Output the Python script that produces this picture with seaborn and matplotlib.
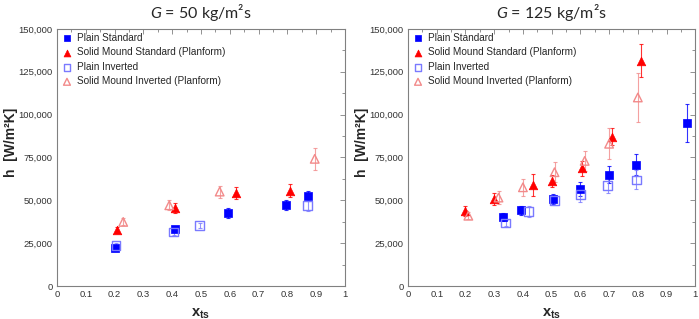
import numpy as np
import pandas as pd
import matplotlib
matplotlib.use("Agg")
import matplotlib.pyplot as plt
from matplotlib.ticker import MultipleLocator, FuncFormatter
import seaborn as sns

# --- Datos: G = 50 kg/m2s ---
g50_ps_x = [0.20, 0.41, 0.595, 0.795, 0.87]
g50_ps_y = [22000, 33000, 42800, 47300, 52700]
g50_ps_e = [1500, 1500, 3000, 3000, 3000]

g50_sms_x = [0.21, 0.41, 0.62, 0.81]
g50_sms_y = [32700, 45700, 54100, 55700]
g50_sms_e = [1500, 3000, 3500, 4000]

g50_pi_x = [0.205, 0.405, 0.495, 0.87]
g50_pi_y = [23500, 31400, 35200, 46900]
g50_pi_e = [1500, 1500, 1500, 3000]

g50_smi_x = [0.23, 0.39, 0.565, 0.895]
g50_smi_y = [37400, 47100, 55100, 74200]
g50_smi_e = [2000, 3000, 3500, 6500]

# --- Datos: G = 125 kg/m2s ---
g125_ps_x = [0.33, 0.395, 0.505, 0.60, 0.70, 0.795, 0.97]
g125_ps_y = [40300, 44200, 50600, 56600, 65000, 70800, 95200]
g125_ps_e = [2500, 2500, 3000, 4000, 5000, 6000, 11000]

g125_sms_x = [0.20, 0.30, 0.435, 0.50, 0.605, 0.71, 0.81]
g125_sms_y = [43800, 50600, 58800, 61100, 68700, 87000, 131500]
g125_sms_e = [3000, 3500, 6500, 3500, 4500, 5000, 9500]

g125_pi_x = [0.34, 0.42, 0.51, 0.60, 0.695, 0.795]
g125_pi_y = [36800, 43400, 50000, 53300, 58600, 61900]
g125_pi_e = [2000, 3000, 3000, 4000, 4500, 5500]

g125_smi_x = [0.21, 0.315, 0.40, 0.51, 0.615, 0.70, 0.80]
g125_smi_y = [41000, 51600, 57600, 66400, 73000, 83000, 110000]
g125_smi_e = [2000, 4000, 5000, 6000, 6000, 9000, 14500]

labels = ["Plain Standard", "Solid Mound Standard (Planform)",
          "Plain Inverted", "Solid Mound Inverted (Planform)"]

# estilo de cada serie: (marcador, color, relleno)
estilos = [("s", "#0000FF", True), ("^", "#FF0000", True),
           ("s", "#7A7AFF", False), ("^", "#F28A8A", False)]

paneles = [
    ("50", [(g50_ps_x, g50_ps_y, g50_ps_e), (g50_sms_x, g50_sms_y, g50_sms_e),
            (g50_pi_x, g50_pi_y, g50_pi_e), (g50_smi_x, g50_smi_y, g50_smi_e)]),
    ("125", [(g125_ps_x, g125_ps_y, g125_ps_e), (g125_sms_x, g125_sms_y, g125_sms_e),
             (g125_pi_x, g125_pi_y, g125_pi_e), (g125_smi_x, g125_smi_y, g125_smi_e)]),
]

sns.set_style("white")
plt.rcParams["font.family"] = ["Liberation Sans", "DejaVu Sans"]
plt.rcParams["mathtext.fontset"] = "custom"
plt.rcParams["mathtext.it"] = "Lato:italic"
plt.rcParams["mathtext.rm"] = "Lato"
plt.rcParams["mathtext.bf"] = "Liberation Sans:bold"

fig = plt.figure(figsize=(6.99, 3.19), dpi=100)
posiciones = [[0.0815, 0.1034, 0.412, 0.806], [0.5837, 0.1034, 0.411, 0.806]]

for pos, (g, series) in zip(posiciones, paneles):
    ax = fig.add_axes(pos)
    for (x, y, e), (m, c, lleno), lab in zip(series, estilos, labels):
        df = pd.DataFrame({"xts": x, "h": y})
        ax.errorbar(x, y, yerr=e, fmt="none", ecolor=c, elinewidth=0.8,
                    capsize=1.5, capthick=0.8, alpha=0.8, zorder=2)
        if lleno:
            sns.scatterplot(data=df, x="xts", y="h", marker=m, color=c, s=38,
                            edgecolor=c, linewidth=0.5, label=lab, ax=ax, zorder=3)
        else:
            sns.scatterplot(data=df, x="xts", y="h", marker=m, s=38,
                            facecolor="none", edgecolor=c, linewidth=1.0,
                            label=lab, ax=ax, zorder=3)

    ax.set_xlim(0, 1)
    ax.set_ylim(0, 150000)
    ax.xaxis.set_major_locator(MultipleLocator(0.1))
    ax.xaxis.set_minor_locator(MultipleLocator(0.05))
    ax.yaxis.set_major_locator(MultipleLocator(25000))
    ax.yaxis.set_minor_locator(MultipleLocator(12500))
    ax.xaxis.set_major_formatter(FuncFormatter(lambda v, p: f"{v:g}"))
    ax.yaxis.set_major_formatter(FuncFormatter(lambda v, p: f"{int(v):,}"))
    ax.tick_params(which="both", direction="in", top=True, right=True,
                   color="#808080", labelcolor="#333333", labelsize=6.8, pad=3)
    ax.tick_params(which="major", length=3.5, width=0.6)
    ax.tick_params(which="minor", length=2, width=0.6)
    for sp in ax.spines.values():
        sp.set_color("#808080")
        sp.set_linewidth(0.8)

    ax.set_title(r"$G$ = " + g + " kg/m²s", fontsize=11.5, family="Lato", pad=8)
    ax.set_xlabel(r"$\mathbf{x_{ts}}$", fontsize=10.5, labelpad=5)
    ax.set_ylabel("h  [W/m²K]", fontsize=10, fontweight="bold")
    ax.yaxis.set_label_coords(-0.135, 0.56)

    ax.legend(loc="upper left", frameon=False, fontsize=7.2, handletextpad=0.4,
              labelspacing=0.45, borderaxespad=0.2, borderpad=0.2,
              markerscale=0.8, handlelength=1.2)

plt.savefig("out.png", dpi=100)
